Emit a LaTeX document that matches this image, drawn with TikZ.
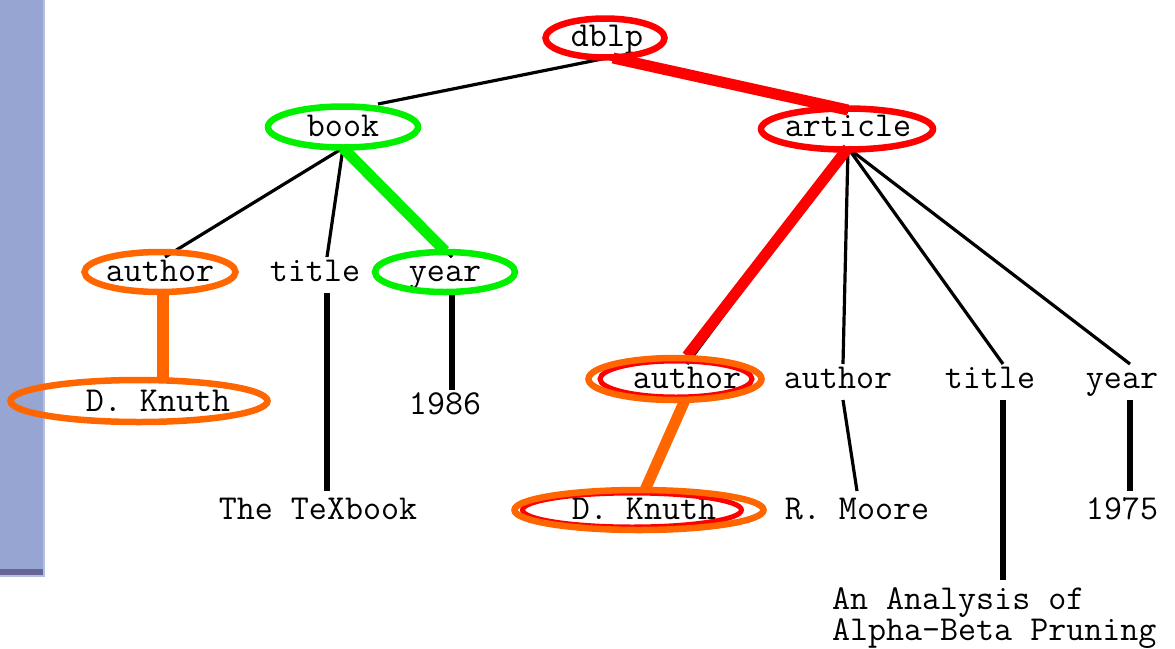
\documentclass[tikz,border=0pt]{standalone}
\usepackage{fontspec}
\usetikzlibrary{shapes.geometric}

\definecolor{barblue}{RGB}{150,165,210}
\definecolor{bardark}{RGB}{102,102,150}
\definecolor{baredge}{RGB}{178,190,226}
\definecolor{hlred}{RGB}{255,0,0}
\definecolor{hlgreen}{RGB}{0,240,0}
\definecolor{hlorange}{RGB}{255,102,0}

\newcommand{\treetext}{\fontsize{35}{31}\ttfamily}

\begin{document}
\begin{tikzpicture}[x=1pt,y=-1pt,
  lbl/.style={font=\treetext, inner sep=0pt, outer sep=0pt,
              text height=24pt, text depth=12pt, anchor=base},
  ring/.style 2 args={draw, ellipse, line width=6.5pt, inner sep=0pt, outer sep=0pt,
              minimum width=#1, minimum height=#2},
  edge/.style={line width=3.2pt},
  stem/.style={line width=5.5pt},
  hl/.style={line width=11pt}
]
\useasboundingbox (0,0) rectangle (1175,648);

% side bar
\fill[barblue] (0,0) rectangle (43,569);
\fill[bardark] (0,569) rectangle (43,575);
\fill[baredge] (43,0) rectangle (44.5,576.5);
\fill[baredge] (0,575) rectangle (44.5,576.5);

% tree labels
\node[lbl] (dblp)    at (607,46)  {dblp};
\node[lbl] (book)    at (343,136) {book};
\node[lbl] (article) at (848,136) {article};
\node[lbl] (ab)      at (160,281) {author};
\node[lbl] (tb)      at (315,281) {title};
\node[lbl] (yb)      at (445,281) {year};
\node[lbl] (kl)      at (158,411) {D. Knuth};
\node[lbl] (n1986)   at (445,414) {1986};
\node[lbl, text height=28pt] (texbook) at (318,519) {The TeXbook};
\node[lbl] (aa)      at (687,388) {author};
\node[lbl] (ac)      at (838,388) {author};
\node[lbl] (tc)      at (990,388) {title};
\node[lbl] (yc)      at (1122,388) {year};
\node[lbl, text height=28pt] (kr)    at (644,519) {D. Knuth};
\node[lbl, text height=28pt] (rm)    at (857,519) {R. Moore};
\node[lbl, text height=28pt] (n1975) at (1122,519) {1975};
\node[font=\treetext, inner xsep=0pt, inner ysep=8pt, outer sep=0pt,
      align=left, anchor=north west] (analysis) at (832,580)
      {An Analysis of\\Alpha-Beta Pruning};

% plain tree edges
\draw[edge] (dblp.south) -- ([xshift=35pt,yshift=8pt]book.north);
\draw[edge] (dblp.south) -- (article.north);
\draw[edge] (book.south) -- ([xshift=5pt]ab.north);
\draw[edge] (book.south) -- ([xshift=12pt]tb.north);
\draw[edge] (book.south) -- ([xshift=7pt]yb.north);
\draw[edge] (article.south) -- (aa.north);
\draw[edge] (article.south) -- ([xshift=5pt]ac.north);
\draw[edge] (article.south) -- ([xshift=13pt]tc.north);
\draw[edge] (article.south) -- ([xshift=8pt]yc.north);
\draw[edge] ([xshift=5pt]ac.south) -- (rm.north);
\draw[edge] (aa.south) -- (kr.north);

% value stems
\coordinate (tbx) at ([xshift=12pt]tb.south);
\draw[stem] (tbx) -- (tbx |- texbook.north);
\coordinate (ybx) at ([xshift=7pt]yb.south);
\draw[stem] (ybx) -- (ybx |- n1986.north);
\coordinate (tcx) at ([xshift=13pt]tc.south);
\draw[stem] (tcx) -- (tcx |- analysis.north);
\coordinate (ycx) at ([xshift=8pt]yc.south);
\draw[stem] (ycx) -- (ycx |- n1975.north);

% highlighted paths
\draw[hl, hlred] ([xshift=6pt]dblp.south) -- ([yshift=2pt]article.north);
\draw[hl, hlgreen] (book.south) -- ([yshift=6pt]yb.north);
\draw[hl, hlred] (article.south) -- ([yshift=8pt]aa.north);

% highlight rings
\node[ring={119}{39}, draw=hlred]    (r-dblp)    at (605,38)  {};
\node[ring={150}{41}, draw=hlgreen]  (r-book)    at (343,127) {};
\node[ring={172}{41}, draw=hlred]    (r-article) at (847,129) {};
\node[ring={151}{40}, draw=hlorange] (r-ab)      at (160,272) {};
\node[ring={140}{40}, draw=hlgreen]  (r-yb)      at (445,272) {};
\node[ring={257}{42}, draw=hlorange] (r-kl)      at (139,401) {};
\node[ring={152}{36}, draw=hlred, line width=5pt] (r-aa-in) at (676,379) {};
\node[ring={173}{42}, draw=hlorange] (r-aa)      at (675,379) {};
\node[ring={219}{34}, draw=hlred, line width=5pt] (r-kr-in) at (632,510) {};
\node[ring={249}{40}, draw=hlorange] (r-kr)      at (639,510) {};

% orange links between rings
\coordinate (abx) at ([xshift=3pt]r-ab.south);
\draw[hlorange, line width=12pt] (abx) -- (abx |- r-kl.north);
\draw[hl, hlorange] ([xshift=10pt]r-aa.south) -- ([xshift=6pt]r-kr.north);
\end{tikzpicture}
\end{document}
